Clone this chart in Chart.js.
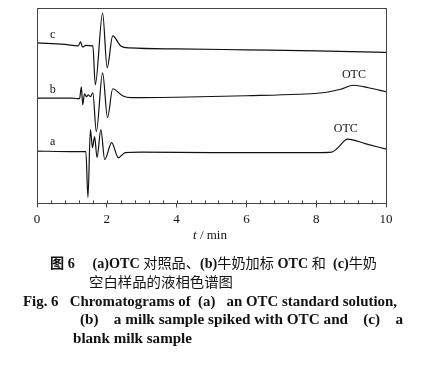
<!DOCTYPE html>
<html><head><meta charset="utf-8">
<script src="https://cdn.jsdelivr.net/npm/chart.js@4/dist/chart.umd.min.js"></script>
<style>
html,body{margin:0;padding:0;background:#fff;width:434px;height:365px;overflow:hidden;}
#wrap{position:absolute;left:0;top:0;width:434px;height:233px;}
.t{position:absolute;white-space:pre;color:#111;font-family:"Liberation Serif","Noto Sans CJK SC",serif;transform-origin:0 50%;}
.cn{font-size:14px;line-height:18px;}
.en{font-size:14px;line-height:18px;font-weight:bold;}
</style></head>
<body>
<div id="wrap"><canvas id="c" width="434" height="233"></canvas></div>
<div class="t" style="left:193px;top:227px;font-size:13px;"><i>t</i> / min</div>
<div class="t cn" data-w="327" style="left:50px;top:255px;"><b>图 6</b>     <b>(a)OTC</b> 对照品、<b>(b)</b>牛奶加标 <b>OTC</b> 和  <b>(c)</b>牛奶</div>
<div class="t cn" data-w="144" style="left:89px;top:274px;">空白样品的液相色谱图</div>
<div class="t en" data-w="374" style="left:23px;top:293px;">Fig. 6   Chromatograms of  (a)   an OTC standard solution,</div>
<div class="t en" data-w="323" style="left:80px;top:311px;">(b)    a milk sample spiked with OTC and    (c)    a</div>
<div class="t en" data-w="119" style="left:73px;top:330px;">blank milk sample</div>
<script>
// trace a: OTC standard solution
const tA = [0, 1.0, 1.40, 1.46, 1.53, 1.59, 1.65, 1.72, 1.83, 1.94, 2.14, 2.33, 2.53, 3, 5, 8, 8.45, 8.6, 8.9, 9.4, 10];
const vA = [52.5, 52, 52, 6, 74, 56, 67, 46, 74, 44, 61, 46, 51, 51.5, 51, 51, 51.5, 55, 64.5, 60, 54.5];
// trace b: milk sample spiked with OTC
const tB = [0, 1.0, 1.22, 1.27, 1.31, 1.36, 1.42, 1.47, 1.53, 1.60, 1.70, 1.88, 2.02, 2.17, 2.45, 2.7, 4, 6, 7.5, 8.3, 8.7, 9.07, 9.5, 10];
const vB = [105.5, 105.5, 105, 117, 99, 110, 107, 109, 107, 111, 72, 131, 86, 115, 108, 106, 106.5, 108, 109.5, 111.5, 114.5, 118.5, 116, 112];
// trace c: blank milk sample
const tC = [0, 0.8, 1.18, 1.25, 1.30, 1.40, 1.60, 1.67, 1.88, 2.01, 2.17, 2.40, 2.65, 4, 6, 8, 10];
const vC = [161, 159.5, 158, 162, 157, 158.5, 158, 119, 191, 136, 168, 158, 156, 155, 154, 153, 151.5];
// x-axis tick labels
const xLabels = ['0', '2', '4', '6', '8', '10'];
// annotations
const noteText = ['c', 'b', 'a', 'OTC', 'OTC'];
const noteX = [0.45, 0.45, 0.45, 9.08, 8.85];
const noteY = [169, 114, 62, 129, 75];

// fit caption lines to their widths
document.querySelectorAll('[data-w]').forEach(el => {
  const w = el.getBoundingClientRect().width;
  el.style.transform = 'scaleX(' + (parseFloat(el.dataset.w) / w) + ')';
});

const pts = (t, v) => t.map((x, i) => ({x: x, y: v[i]}));
const ds = (t, v) => ({data: pts(t, v), borderColor: '#111', borderWidth: 1.2, pointRadius: 0, cubicInterpolationMode: 'monotone', fill: false});
const isMajor = v => Math.abs(v / 2 - Math.round(v / 2)) < 1e-6;

const framePlugin = {
  id: 'frame',
  afterDraw(chart) {
    const ctx = chart.ctx, a = chart.chartArea, xs = chart.scales.x, ys = chart.scales.y;
    ctx.save();
    ctx.strokeStyle = '#444'; ctx.lineWidth = 1;
    ctx.strokeRect(Math.round(a.left) + 0.5, Math.round(a.top) + 0.5, Math.round(a.right - a.left), Math.round(a.bottom - a.top));
    xs.ticks.forEach(tk => {
      const px = Math.round(xs.getPixelForValue(tk.value)) + 0.5;
      ctx.beginPath(); ctx.moveTo(px, a.bottom); ctx.lineTo(px, a.bottom - 3); ctx.stroke();
    });
    ctx.fillStyle = '#111';
    ctx.font = '12px "Liberation Serif"';
    ctx.textAlign = 'center'; ctx.textBaseline = 'middle';
    noteText.forEach((s, i) => ctx.fillText(s, xs.getPixelForValue(noteX[i]), ys.getPixelForValue(noteY[i])));
    ctx.restore();
  }
};

new Chart(document.getElementById('c'), {
  type: 'line',
  data: {datasets: [ds(tA, vA), ds(tB, vB), ds(tC, vC)]},
  options: {
    responsive: false, animation: false, events: [],
    layout: {padding: {left: 37, right: 48, top: 8, bottom: 2}},
    plugins: {legend: {display: false}, tooltip: {enabled: false}},
    scales: {
      x: {
        type: 'linear', min: 0, max: 10,
        border: {display: false},
        grid: {drawOnChartArea: false, tickLength: 4, color: '#444',
               tickColor: c => isMajor(c.tick.value) ? '#444' : 'rgba(0,0,0,0)'},
        ticks: {stepSize: 0.4, autoSkip: false, maxRotation: 0, padding: 4, color: '#111',
                font: {family: 'Liberation Serif', size: 13},
                callback: v => isMajor(v) ? xLabels[Math.round(v / 2)] : ''}
      },
      y: {display: false, min: 0, max: 196}
    }
  },
  plugins: [framePlugin]
});
</script>
</body></html>
